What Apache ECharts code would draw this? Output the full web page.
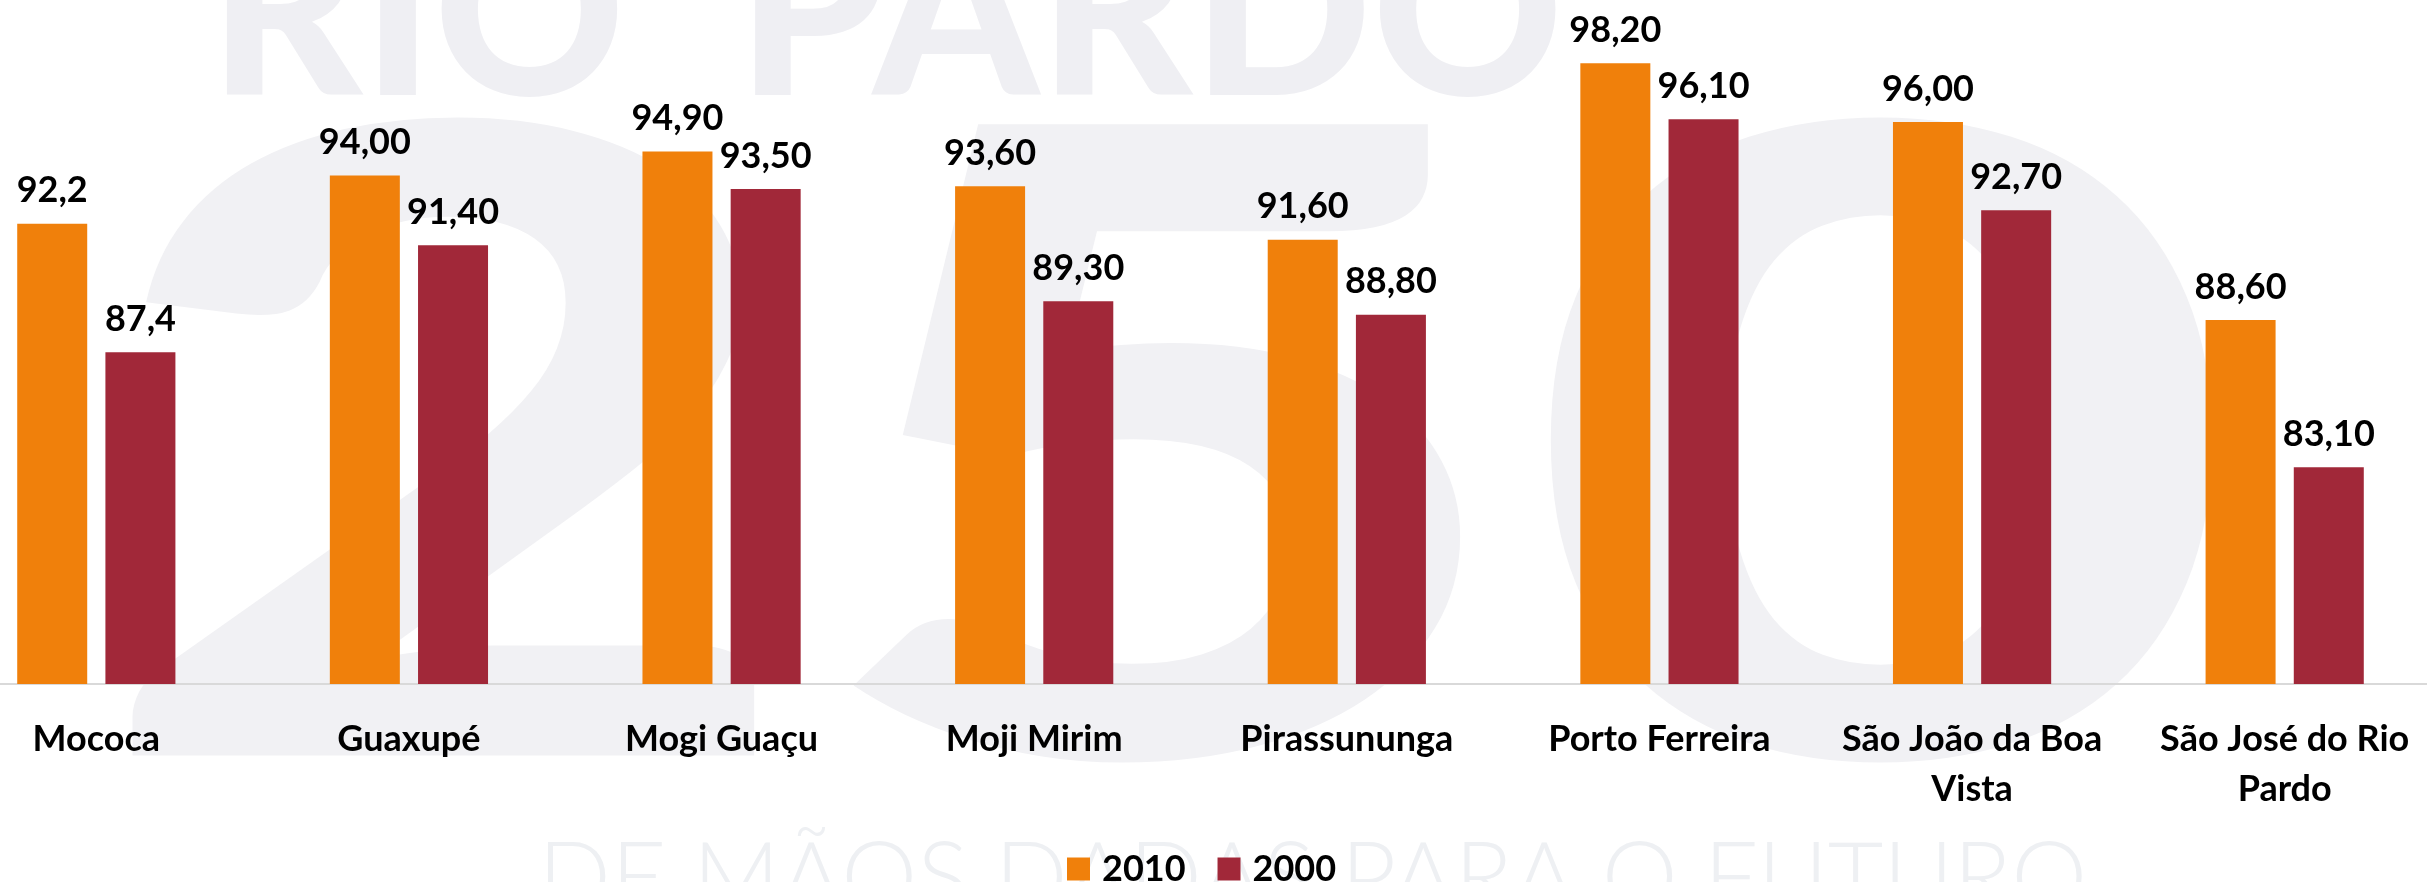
<!DOCTYPE html>
<html>
<head>
<meta charset="utf-8">
<style>
html, body { margin: 0; padding: 0; background: #fff; overflow: hidden; }
#wrap { position: relative; width: 2427px; height: 882px; overflow: hidden; }
/* the picture is a crop: the outer category bands run past the left/right edges */
#chart { position: absolute; left: -60px; top: 0; width: 2501px; height: 882px; }
</style>
<script src="https://cdn.jsdelivr.net/npm/echarts@6/dist/echarts.min.js"></script>
</head>
<body>
<div id="wrap"><div id="chart"></div></div>
<script>
const cidades = ['Mococa', 'Guaxupé', 'Mogi Guaçu', 'Moji Mirim', 'Pirassununga', 'Porto Ferreira', 'São João da Boa\nVista', 'São José do Rio\nPardo']
const v2010 = [92.2, 94.0, 94.9, 93.6, 91.6, 98.2, 96.0, 88.6]
const v2000 = [87.4, 91.4, 93.5, 89.3, 88.8, 96.1, 92.7, 83.1]
const casas = [1, 2, 2, 2, 2, 2, 2, 2] // Mococa aparece com uma casa decimal
const anos = ['2010', '2000']

const fonte = 'Lato, "Open Sans", sans-serif'
const cinza = '#efeff3'

const rotulo = {
  show: true,
  position: 'top',
  distance: 15,
  color: '#000',
  fontFamily: fonte,
  fontWeight: 'bold',
  fontSize: 36,
  formatter: p => p.value.toFixed(casas[p.dataIndex]).replace('.', ',')
}

const option = {
  animation: false,
  backgroundColor: '#fff',
  color: ['#f0800b', '#a12839'],
  // marca d'agua ao fundo
  graphic: [
    {
      type: 'text', silent: true, z: -10,
      x: 269, y: -99,
      style: { text: 'RIO  PARDO', fill: cinza, font: '900 236px Lato', verticalAlign: 'top' }
    },
    {
      type: 'text', silent: true, z: -10,
      x: 150, y: 40, scaleX: 1.42,
      style: { text: '250', fill: '#f1f1f4', font: '900 870px Lato', verticalAlign: 'top' }
    },
    {
      type: 'text', silent: true, z: -10,
      x: 598, y: 832,
      style: { text: 'DE MÃOS DADAS PARA O FUTURO', fill: '#eef0f3', font: '300 96px Lato', verticalAlign: 'top' }
    }
  ],
  legend: {
    data: anos,
    left: 1122,
    top: 846,
    itemWidth: 23,
    itemHeight: 23,
    itemGap: 32,
    icon: 'rect',
    textStyle: { fontFamily: fonte, fontWeight: 'bold', fontSize: 36, lineHeight: 36, color: '#000', padding: [0, 0, 0, 7] }
  },
  grid: { left: 0, right: 0, top: 15, bottom: 198 },
  xAxis: {
    type: 'category',
    data: cidades,
    axisLine: { lineStyle: { color: '#d9d9d9', width: 2 } },
    axisTick: { show: false },
    axisLabel: {
      interval: 0,
      margin: 30,
      color: '#000',
      fontFamily: fonte,
      fontWeight: 'bold',
      fontSize: 36,
      lineHeight: 50
    }
  },
  yAxis: {
    type: 'value',
    min: 75,
    max: 100,
    show: false,
    splitLine: { show: false }
  },
  series: [
    { name: '2010', type: 'bar', data: v2010, barWidth: 70, barGap: '26%', label: rotulo },
    { name: '2000', type: 'bar', data: v2000, barWidth: 70, barGap: '26%', label: rotulo }
  ]
}

const meuGrafico = echarts.init(document.getElementById('chart'))
meuGrafico.setOption(option)
window.addEventListener('resize', () => {
  meuGrafico.resize()
})
</script>
</body>
</html>
